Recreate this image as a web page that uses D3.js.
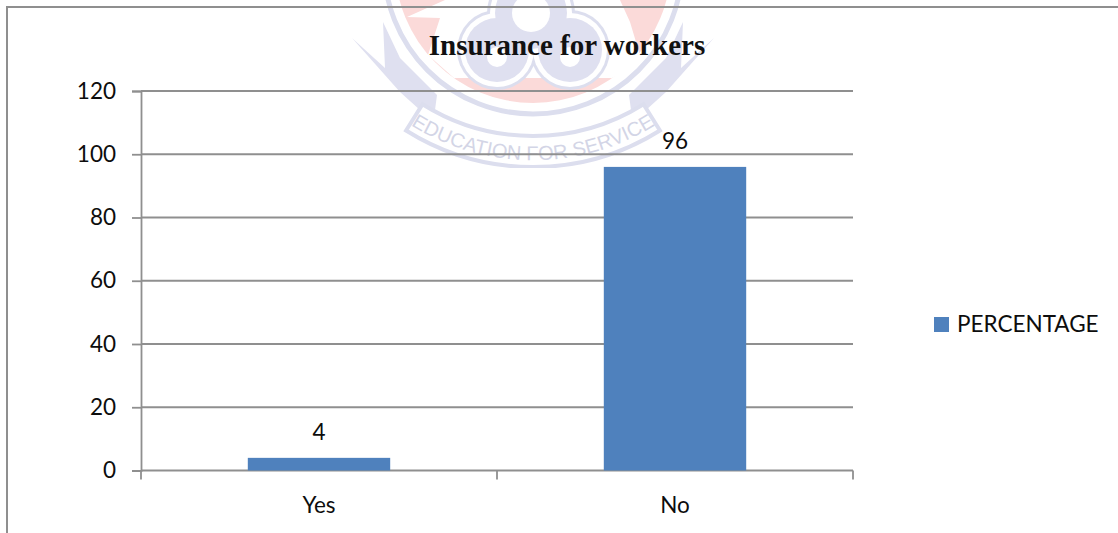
<!DOCTYPE html>
<html>
<head>
<meta charset="utf-8">
<script src="https://cdn.jsdelivr.net/npm/d3@7"></script>
<style>
html,body{margin:0;padding:0;background:#fff}
svg{display:block}
</style>
</head>
<body>
<svg id="chart" width="1118" height="533"></svg>
<script>
const categories = ["Yes", "No"];
const percentages = [4, 96];
const yTicks = [0, 20, 40, 60, 80, 100, 120];
const seriesName = "PERCENTAGE";
const chartTitle = "Insurance for workers";
const crestMotto = "EDUCATION FOR SERVICE";

const svg = d3.select("#chart");
const axisGrey = "#8f8f8f";
const barBlue = "#4f81bd";
const labelFont = "Lato, Carlito, sans-serif";
const labelSize = 22.5;
const ink = "#0d0d0d";

// University crest sitting behind the chart, cut off just under its motto
const lav = "#dfe0f0", pink = "#fbdad9", ring = "#dcdeee";
svg.append("clipPath").attr("id", "crestClip").append("rect")
  .attr("x", 300).attr("y", 0).attr("width", 480).attr("height", 168);
const crest = svg.append("g").attr("clip-path", "url(#crestClip)");

const poly = pts => "M" + pts.map(p => p.join(",")).join("L") + "Z";
const mirror = pts => pts.map(([px, py]) => [1066 - px, py]);

// Outer rings and red disc
crest.append("circle").attr("cx", 533).attr("cy", -35).attr("r", 149).attr("fill", "none").attr("stroke", ring).attr("stroke-width", 5);
crest.append("circle").attr("cx", 533).attr("cy", -35).attr("r", 138).attr("fill", pink);
crest.append("path")
  .attr("d", poly([[407,17],[445,0],[620,0],[630,22],[642,62],[612,78],[454,78],[428,55],[440,18]]))
  .attr("fill", "#fff");

// Three-lobed emblem
const lobes = [[531, 13, 36], [497, 50, 32], [570, 50, 32]];
[[8, ring], [5, "#fff"], [0, lav]].forEach(([grow, fill]) => {
  crest.append("g").selectAll("circle").data(lobes).join("circle")
    .attr("cx", d => d[0]).attr("cy", d => d[1]).attr("r", d => d[2] + grow).attr("fill", fill);
});
crest.append("circle").attr("cx", 531).attr("cy", 13).attr("r", 19).attr("fill", "#fff");
crest.append("circle").attr("cx", 497).attr("cy", 57).attr("r", 10).attr("fill", "#fff");
crest.append("circle").attr("cx", 570).attr("cy", 57).attr("r", 10).attr("fill", "#fff");

// Side wings
const wing = [[352,38],[385,68],[383,22],[400,58],[437,95],[435,110],[420,110],[400,92]];
crest.append("path").attr("d", poly(wing)).attr("fill", lav);
crest.append("path").attr("d", poly(mirror(wing))).attr("fill", lav);

// Motto ribbon
const ribbonArc = d3.arc()({
  innerRadius: 208, outerRadius: 239,
  startAngle: Math.PI - 0.56, endAngle: Math.PI + 0.56
});
crest.append("path")
  .attr("transform", "translate(533,-72)")
  .attr("d", ribbonArc)
  .attr("fill", "#fff").attr("stroke", ring).attr("stroke-width", 4);
crest.append("path").attr("id", "mottoArc").attr("fill", "none")
  .attr("d", "M403,120 A230,230 0 0 0 663,120");
crest.append("text")
  .attr("font-family", "Liberation Sans, sans-serif")
  .attr("font-size", 20)
  .attr("fill", "#d3d5e6")
  .append("textPath")
  .attr("href", "#mottoArc")
  .attr("startOffset", "50%")
  .attr("text-anchor", "middle")
  .text(crestMotto);

// Outer frame: top and left edges only
svg.append("path")
  .attr("d", "M7,533V7H1118")
  .attr("fill", "none").attr("stroke", axisGrey).attr("stroke-width", 2);

const x = d3.scaleBand().domain(categories).range([141, 853]).paddingInner(0.6).paddingOuter(0.3);
const y = d3.scaleLinear().domain([0, 120]).range([470.5, 91]);

// Horizontal gridlines
svg.append("g").selectAll("line").data(yTicks).join("line")
  .attr("x1", 141).attr("x2", 853)
  .attr("y1", d => y(d)).attr("y2", d => y(d))
  .attr("stroke", axisGrey).attr("stroke-width", 1.8);

// Bars
svg.append("g").selectAll("rect").data(percentages).join("rect")
  .attr("x", (d, i) => x(categories[i]))
  .attr("width", x.bandwidth())
  .attr("y", d => y(d))
  .attr("height", d => y(0) - y(d))
  .attr("fill", barBlue);

// Value labels
svg.append("g").selectAll("text").data(percentages).join("text")
  .attr("x", (d, i) => x(categories[i]) + x.bandwidth() / 2)
  .attr("y", d => y(d) - 18)
  .attr("text-anchor", "middle")
  .attr("font-family", labelFont).attr("font-size", labelSize).attr("fill", ink)
  .text(d => d);

// Axes
const yAxis = d3.axisLeft(y).tickValues(yTicks).tickSize(9).tickPadding(16);
const gy = svg.append("g").attr("transform", "translate(141,0)").call(yAxis);
const xEdges = [141, 497, 853];
const gx = svg.append("g").attr("transform", `translate(0,${y(0)})`)
  .call(d3.axisBottom(x).tickSize(0).tickPadding(27));
svg.append("g").selectAll("line").data(xEdges).join("line")
  .attr("x1", d => d).attr("x2", d => d)
  .attr("y1", y(0)).attr("y2", y(0) + 9)
  .attr("stroke", axisGrey).attr("stroke-width", 1.8);
[gy, gx].forEach(g => {
  g.select(".domain").attr("stroke", axisGrey).attr("stroke-width", 1.8);
  g.selectAll(".tick line").attr("stroke", axisGrey).attr("stroke-width", 1.8);
  g.selectAll("text").attr("font-family", labelFont).attr("font-size", labelSize).attr("fill", ink);
});
gx.select(".domain").remove();

// Title
svg.append("text")
  .attr("x", 567).attr("y", 55)
  .attr("text-anchor", "middle")
  .attr("font-family", "Liberation Serif, serif").attr("font-weight", "bold").attr("font-size", 29)
  .attr("fill", "#111")
  .text(chartTitle);

// Legend
svg.append("rect").attr("x", 934).attr("y", 317).attr("width", 15).attr("height", 15).attr("fill", barBlue);
svg.append("text").attr("x", 957).attr("y", 332)
  .attr("font-family", labelFont).attr("font-size", labelSize).attr("fill", ink)
  .text(seriesName);
</script>
</body>
</html>
